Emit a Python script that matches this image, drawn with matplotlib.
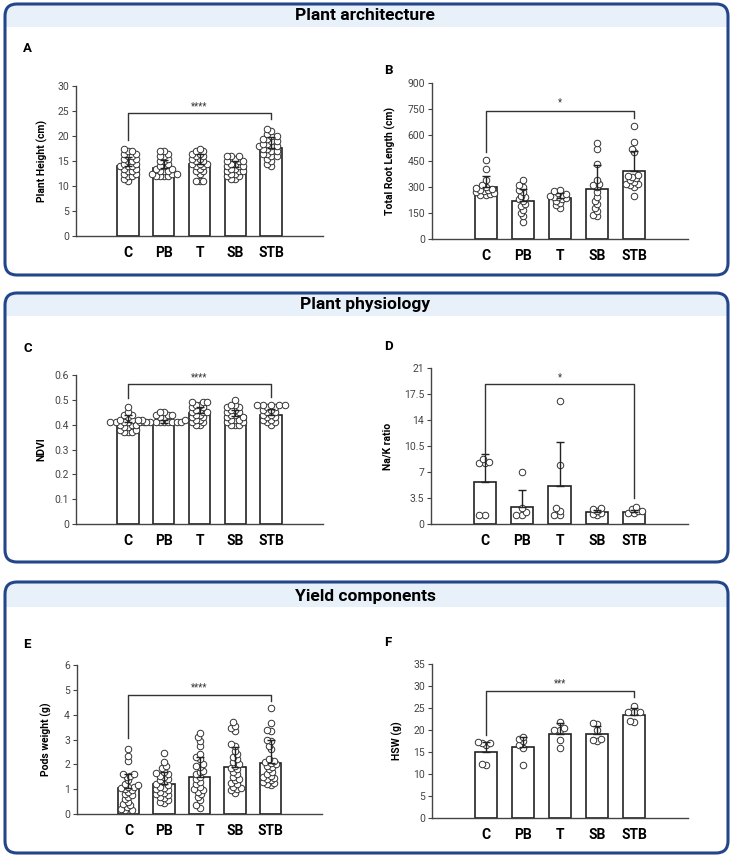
import numpy as np
import matplotlib
matplotlib.use("Agg")
import matplotlib.pyplot as plt
from matplotlib.patches import FancyBboxPatch, Rectangle
from matplotlib.transforms import Affine2D

plt.rcParams['font.family'] = ['Roboto', 'DejaVu Sans']

W, H = 730, 858
GROUPS = ["C", "PB", "T", "SB", "STB"]

# ---- A: plant height ----
height_mean = [14.1, 13.7, 14.5, 13.8, 17.7]
height_sd = [1.8, 1.5, 2.0, 1.3, 2.1]
height_pts = [
    [17.5, 17, 17, 16.5, 16.5, 16, 16, 15.5, 15.5, 15, 15, 14.5, 14.5, 14, 14, 14, 13.5, 13.5, 13, 13, 12.5, 12.5, 12, 12, 11.5, 11],
    [17, 17, 16.5, 16, 16, 15.5, 15, 15, 14.5, 14, 14, 13.5, 13.5, 13, 13, 13, 12.5, 12.5, 12.5, 12, 12, 12, 12],
    [17.5, 17, 17, 16.5, 16.5, 16, 16, 15.5, 15.5, 15, 15, 14.5, 14.5, 14.5, 14, 14, 13.5, 13, 13, 12.5, 11, 11, 11],
    [16, 16, 16, 15.5, 15, 15, 15, 14.5, 14.5, 14, 14, 14, 13.5, 13.5, 13, 13, 13, 12.5, 12.5, 12, 12, 11.5, 11.5],
    [21.5, 21, 20.5, 20, 20, 19.5, 19.5, 19, 19, 18.5, 18.5, 18, 18, 18, 17.5, 17.5, 17, 17, 16.5, 16.5, 16, 16, 15.5, 15, 14.5, 14],
]

# ---- B: total root length ----
root_mean = [300, 222, 235, 288, 390]
root_sd = [65, 65, 30, 137, 115]
root_pts = [
    [456, 404, 340, 310, 300, 295, 290, 285, 280, 275, 270, 265, 260, 255, 255],
    [340, 310, 300, 280, 270, 250, 240, 230, 220, 200, 190, 170, 150, 130, 100],
    [285, 275, 265, 260, 255, 250, 245, 240, 235, 230, 220, 210, 195, 180],
    [555, 520, 430, 340, 320, 310, 300, 270, 240, 220, 200, 180, 160, 140, 130],
    [650, 560, 520, 500, 370, 365, 360, 350, 340, 330, 320, 315, 310, 300, 250],
]

# ---- C: NDVI ----
ndvi_mean = [0.41, 0.405, 0.445, 0.435, 0.44]
ndvi_sd = [0.03, 0.015, 0.025, 0.025, 0.025]
ndvi_pts = [
    [0.47, 0.45, 0.44, 0.44, 0.43, 0.42, 0.42, 0.41, 0.41, 0.41, 0.41, 0.41, 0.41, 0.40, 0.40, 0.40, 0.39, 0.39, 0.38, 0.38, 0.37, 0.37, 0.37],
    [0.45, 0.45, 0.44, 0.44, 0.44, 0.43, 0.43, 0.42, 0.42, 0.42, 0.41, 0.41, 0.41, 0.41, 0.41, 0.41, 0.41, 0.41, 0.41],
    [0.49, 0.49, 0.49, 0.48, 0.48, 0.47, 0.47, 0.46, 0.46, 0.45, 0.45, 0.45, 0.44, 0.44, 0.43, 0.43, 0.42, 0.42, 0.41, 0.41, 0.40, 0.40],
    [0.50, 0.48, 0.48, 0.47, 0.47, 0.46, 0.46, 0.45, 0.45, 0.44, 0.44, 0.43, 0.43, 0.42, 0.42, 0.42, 0.41, 0.41, 0.40, 0.40, 0.40],
    [0.48, 0.48, 0.48, 0.48, 0.48, 0.47, 0.47, 0.46, 0.46, 0.45, 0.45, 0.44, 0.44, 0.43, 0.43, 0.42, 0.42, 0.41, 0.41, 0.40],
]

# ---- D: Na/K ratio ----
nak_mean = [5.7, 2.3, 5.1, 1.6, 1.65]
nak_sd = [3.7, 2.3, 5.9, 0.3, 0.3]
nak_pts = [
    [8.7, 8.3, 8.2, 8.2, 1.2, 1.2],
    [7.0, 2.2, 1.6, 1.2, 1.2],
    [16.5, 8.0, 2.2, 1.8, 1.2, 1.2],
    [2.2, 2.0, 1.8, 1.5, 1.3, 1.2],
    [2.3, 2.0, 1.8, 1.7, 1.5, 1.5],
]

# ---- E: pods weight ----
pods_mean = [1.05, 1.2, 1.5, 1.9, 2.05]
pods_sd = [0.55, 0.5, 0.8, 0.8, 0.95]
pods_pts = [
    [2.6, 2.35, 2.15, 1.6, 1.6, 1.55, 1.5, 1.35, 1.2, 1.15, 1.1, 1.1, 1.05, 1.0, 0.95, 0.9, 0.8, 0.75, 0.7, 0.6, 0.5, 0.4, 0.35, 0.3, 0.2, 0.15, 0.15, 0.15],
    [2.45, 2.1, 1.95, 1.85, 1.7, 1.65, 1.6, 1.55, 1.5, 1.4, 1.35, 1.3, 1.2, 1.15, 1.1, 1.05, 1.0, 0.95, 0.9, 0.85, 0.8, 0.75, 0.7, 0.65, 0.55, 0.5, 0.45],
    [3.25, 3.1, 2.95, 2.75, 2.4, 2.3, 2.2, 2.0, 1.95, 1.9, 1.75, 1.7, 1.6, 1.5, 1.4, 1.3, 1.2, 1.1, 1.0, 0.95, 0.9, 0.8, 0.7, 0.55, 0.35, 0.25],
    [3.7, 3.55, 3.45, 3.35, 2.8, 2.75, 2.55, 2.4, 2.3, 2.2, 2.1, 2.0, 1.95, 1.85, 1.8, 1.7, 1.6, 1.5, 1.4, 1.35, 1.25, 1.2, 1.1, 1.05, 1.0, 0.95, 0.85],
    [4.25, 3.65, 3.4, 3.35, 3.0, 2.95, 2.75, 2.6, 2.2, 2.15, 2.1, 2.05, 2.0, 1.95, 1.9, 1.8, 1.7, 1.6, 1.55, 1.5, 1.45, 1.4, 1.35, 1.3, 1.25, 1.2, 1.15],
]

# ---- F: HSW ----
hsw_mean = [15.0, 16.2, 19.2, 19.2, 23.3]
hsw_sd = [2.3, 2.3, 2.5, 1.7, 1.6]
hsw_pts = [
    [17.3, 17.0, 17.0, 16.5, 12.2, 12.0],
    [18.5, 18.0, 17.5, 16.5, 15.8, 12.0],
    [21.8, 20.5, 20.0, 20.0, 17.8, 15.8],
    [21.5, 21.3, 20.0, 18.0, 17.8, 17.5],
    [25.5, 24.0, 24.0, 24.0, 22.0, 21.8],
]

fig = plt.figure(figsize=(W / 100, H / 100), dpi=100)
# pixel coords with origin at top-left
PX = Affine2D().scale(1 / W, -1 / H).translate(0, 1) + fig.transFigure

BORDER = "#23468a"
HEADER = "#e8f0fa"


def section(y0, y1, yhead, title, ytitle):
    box = FancyBboxPatch((5, y0), 723, y1 - y0, boxstyle="round,pad=0,rounding_size=12",
                         transform=PX, facecolor="white", edgecolor="none", zorder=-3)
    fig.add_artist(box)
    head = Rectangle((5, y0), 723, yhead - y0, transform=PX, facecolor=HEADER,
                     edgecolor="none", zorder=-2)
    fig.add_artist(head)
    head.set_clip_path(box)
    edge = FancyBboxPatch((5, y0), 723, y1 - y0, boxstyle="round,pad=0,rounding_size=12",
                          transform=PX, facecolor="none", edgecolor=BORDER, lw=2.2, zorder=-1)
    fig.add_artist(edge)
    fig.text(365, ytitle, title, transform=PX, ha="center", va="center",
             fontsize=12.5, fontweight="bold")


section(4, 275, 27, "Plant architecture", 16)
section(293, 562, 316, "Plant physiology", 305)
section(582, 853, 607, "Yield components", 597)


def swarm_x(ax, xc, values, d=3.9):
    # simple beeswarm in pixel space, points may overlap a little
    tr = ax.transData
    inv = tr.inverted()
    cx = tr.transform((xc, 0))[0]
    placed = []
    out = []
    for v in sorted(values):
        py = tr.transform((xc, v))[1]
        for k in range(60):
            off = (k + 1) // 2 * d * 0.5 * (1 if k % 2 == 0 else -1)
            px = cx + off
            if all((px - qx) ** 2 + (py - qy) ** 2 >= d ** 2 for qx, qy in placed):
                break
        placed.append((px, py))
        out.append((inv.transform((px, py))[0], v))
    return np.array(out)


def panel(rect, letter, letter_xy, mean, sd, pts, ylim, yticks, yticklabels, ylabel,
          ylabel_x, bracket, stars):
    l, t, r, b = rect
    ax = fig.add_axes([l / W, 1 - b / H, (r - l) / W, (b - t) / H])
    ax.set_facecolor("none")
    x = np.arange(len(GROUPS))
    ax.set_xlim(-1.45, 5.45)
    ax.set_ylim(*ylim)
    ax.bar(x, mean, width=0.6, facecolor="white", edgecolor="#222222", lw=1.2, zorder=2)
    for i, vals in enumerate(pts):
        xy = swarm_x(ax, x[i], vals)
        ax.scatter(xy[:, 0], xy[:, 1], s=22, facecolor="white", edgecolor="#333333",
                   lw=0.7, zorder=3, clip_on=False)
    ax.errorbar(x, mean, yerr=[np.zeros(len(sd)), sd], fmt="none", ecolor="#222222",
                elinewidth=1.0, capsize=3, capthick=1.0, zorder=4)
    ax.spines[["top", "right"]].set_visible(False)
    for s in ("left", "bottom"):
        ax.spines[s].set_color("#444444")
        ax.spines[s].set_linewidth(1.0)
    ax.set_yticks(yticks)
    ax.set_yticklabels(yticklabels)
    ax.tick_params(axis="y", labelsize=7.5, colors="#444444", length=3, width=0.8, pad=2)
    ax.set_xticks(x)
    ax.set_xticklabels(GROUPS, fontsize=10, fontweight="bold")
    ax.tick_params(axis="x", length=0, pad=7)
    ax.set_ylabel(ylabel, fontsize=7.5, fontweight="bold")
    ax.yaxis.set_label_coords(ylabel_x, 0.5)
    ylo, yhi_c, yhi_s, ytop, ystar = bracket
    ax.plot([0, 0, 4, 4], [yhi_c, ytop, ytop, yhi_s], color="#333333", lw=1.0, zorder=5,
            clip_on=False)
    ax.text(2, ystar, stars, ha="center", va="center", fontsize=7, color="#333333")
    fig.text(letter_xy[0], letter_xy[1], letter, transform=PX, ha="left", va="center",
             fontsize=9.5, fontweight="bold")
    return ax


panel((76, 86, 323, 236), "A", (23, 48), height_mean, height_sd, height_pts, (0, 30),
      range(0, 31, 5), [str(v) for v in range(0, 31, 5)], "Plant Height (cm)", -0.115,
      (0, 19.2, 23.4, 24.6, 25.9), "****")
panel((432, 83, 688, 239), "B", (384, 71), root_mean, root_sd, root_pts, (0, 900),
      range(0, 901, 150), [str(v) for v in range(0, 901, 150)], "Total Root Length (cm)", -0.14,
      (0, 502, 698, 738, 790), "*")
panel((76, 375, 323, 524), "C", (23, 348), ndvi_mean, ndvi_sd, ndvi_pts, (0, 0.6),
      [0, 0.1, 0.2, 0.3, 0.4, 0.5, 0.6], ["0", "0.1", "0.2", "0.3", "0.4", "0.5", "0.6"],
      "NDVI", -0.12, (0, 0.507, 0.51, 0.564, 0.59), "****")
panel((431, 368, 688, 524), "D", (384, 347), nak_mean, nak_sd, nak_pts, (0, 21),
      [0, 3.5, 7, 10.5, 14, 17.5, 21], ["0", "3.5", "7", "10.5", "14", "17.5", "21"],
      "Na/K ratio", -0.15, (0, 9.6, 3.5, 18.8, 19.7), "*")
panel((77, 665, 322, 814), "E", (23, 645), pods_mean, pods_sd, pods_pts, (0, 6),
      range(0, 7), [str(v) for v in range(0, 7)], "Pods weight (g)", -0.1,
      (0, 3.05, 4.55, 4.8, 5.1), "****")
panel((432, 664, 688, 818), "F", (384, 642), hsw_mean, hsw_sd, hsw_pts, (0, 35),
      range(0, 36, 5), [str(v) for v in range(0, 36, 5)], "HSW (g)", -0.115,
      (0, 18.9, 27.5, 28.9, 30.7), "***")

fig.savefig("out.png", dpi=100)
